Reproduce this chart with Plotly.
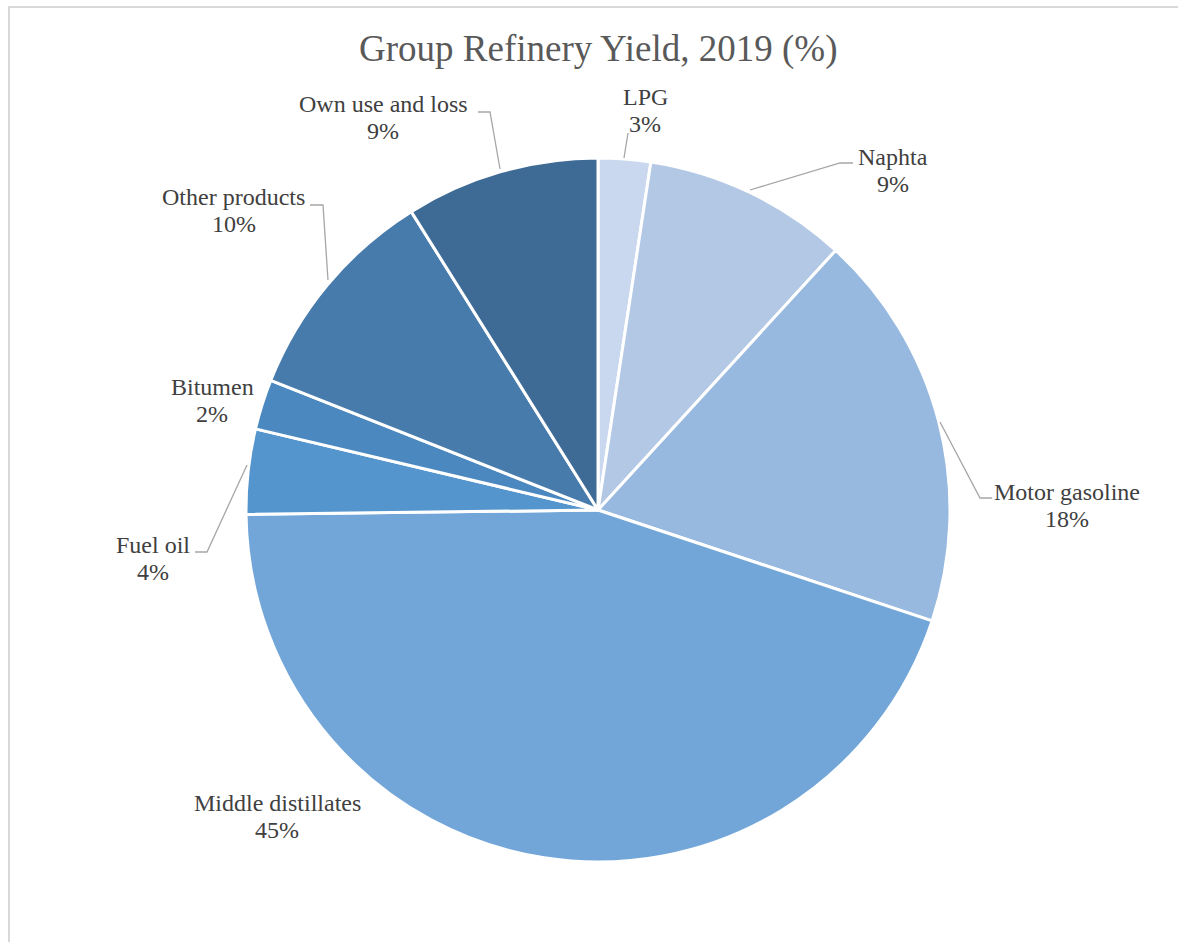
import plotly.graph_objects as go

W, H = 1178, 942

categories = ["LPG", "Naphta", "Motor gasoline", "Middle distillates",
              "Fuel oil", "Bitumen", "Other products", "Own use and loss"]
values = [2.4, 9.4, 18.3, 44.7, 3.9, 2.3, 10.1, 8.9]
pct_labels = ["3%", "9%", "18%", "45%", "4%", "2%", "10%", "9%"]
colors = ["#c9d8ee", "#b3c8e5", "#97b8df", "#73a6d8", "#5595cd",
          "#4b88bf", "#467bac", "#3e6b95"]

# label placement (pixel centers) for each category
label_pos = {
    "LPG": (645, 110),
    "Naphta": (893, 170),
    "Motor gasoline": (1067, 505),
    "Middle distillates": (277, 816),
    "Fuel oil": (153, 558),
    "Bitumen": (212, 400),
    "Other products": (234, 210),
    "Own use and loss": (383, 117),
}
leaders = {
    "LPG": [(628, 133), (624, 158)],
    "Naphta": [(853, 163), (840, 163), (750, 190)],
    "Motor gasoline": [(940, 422), (980, 498), (992, 498)],
    "Fuel oil": [(247, 465), (207, 552), (195, 552)],
    "Other products": [(310, 205), (323, 205), (328, 280)],
    "Own use and loss": [(478, 112), (490, 112), (500, 169)],
}

def px(x):
    return x / W

def py(y):
    return 1 - y / H

cx, cy, r = 598, 510, 352

fig = go.Figure(go.Pie(
    labels=categories,
    values=values,
    sort=False,
    direction="clockwise",
    rotation=0,
    marker=dict(colors=colors, line=dict(color="white", width=3)),
    textinfo="none",
    hoverinfo="label+percent",
    domain=dict(x=[px(cx - r), px(cx + r)], y=[py(cy + r), py(cy - r)]),
    showlegend=False,
))

annotations = [dict(
    text="Group Refinery Yield, 2019 (%)",
    x=px(598), y=py(49), xref="paper", yref="paper",
    xanchor="center", yanchor="middle", showarrow=False,
    font=dict(family="Liberation Serif", size=37, color="#595959"),
)]
label_font = dict(family="Liberation Serif", size=24, color="#404040")
for cat, pct in zip(categories, pct_labels):
    lx, ly = label_pos[cat]
    for txt, yy in ((cat, ly - 13), (pct, ly + 14)):
        annotations.append(dict(
            text=txt,
            x=px(lx), y=py(yy), xref="paper", yref="paper",
            xanchor="center", yanchor="middle", showarrow=False,
            font=label_font,
        ))

shapes = [dict(type="rect", xref="paper", yref="paper",
               x0=px(9), x1=px(1200), y0=py(960), y1=py(7),
               line=dict(color="#d9d9d9", width=2), fillcolor="rgba(0,0,0,0)")]
for cat, pts in leaders.items():
    path = "M " + " L ".join(f"{px(x)},{py(y)}" for x, y in pts)
    shapes.append(dict(type="path", xref="paper", yref="paper", path=path,
                       line=dict(color="#a6a6a6", width=1.3)))

fig.update_layout(
    width=W, height=H,
    margin=dict(l=0, r=0, t=0, b=0),
    paper_bgcolor="white",
    plot_bgcolor="white",
    annotations=annotations,
    shapes=shapes,
)

fig.write_html("out.html")
